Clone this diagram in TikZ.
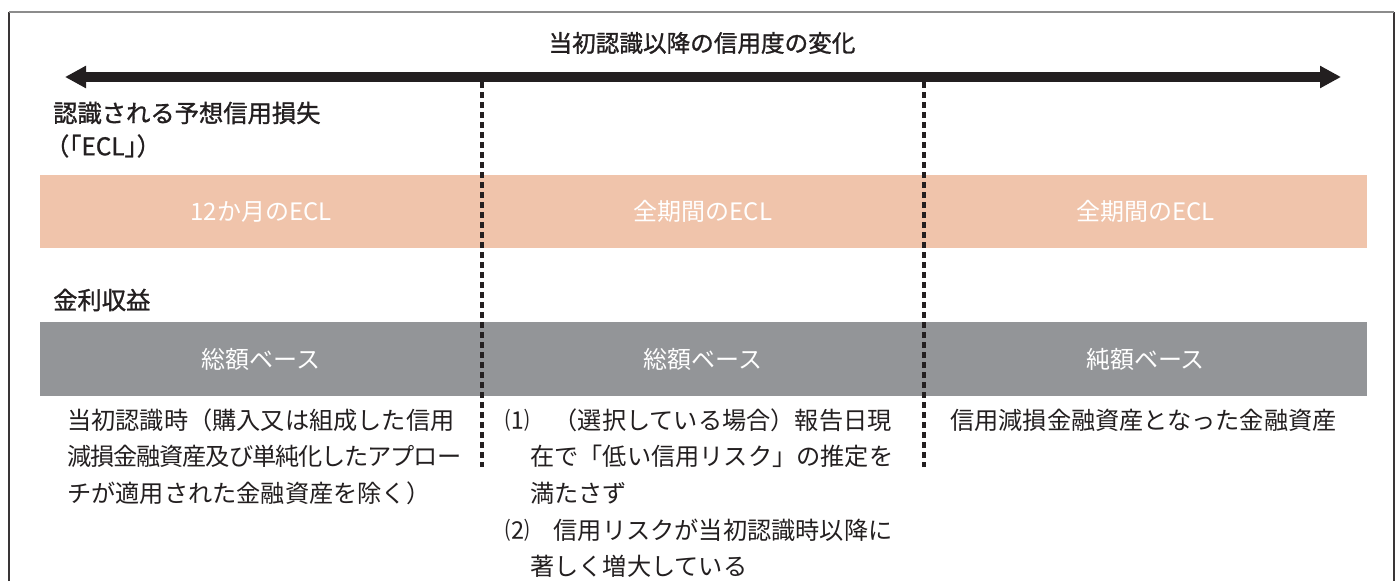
\documentclass[tikz,border=0pt]{standalone}
\usepackage{fontspec}
\setmainfont{Noto Sans CJK JP}
\newfontfamily\headfont{Noto Sans CJK JP}[FakeBold=1.2]
\usetikzlibrary{arrows.meta}
\definecolor{peach}{HTML}{F0C4AB}
\definecolor{bandgray}{HTML}{939598}
\definecolor{ink}{HTML}{231F20}
\definecolor{framegray}{HTML}{8C8C8C}
\begin{document}
\begin{tikzpicture}[x=1pt,y=-1pt,
  frameside/.style={draw=ink!90, line width=2pt},
  frametop/.style={draw=framegray, line width=1.6pt},
  titletext/.style={inner sep=0pt, text=ink, font=\headfont\fontsize{23.6}{28}\selectfont},
  lbl/.style={anchor=west, inner sep=0pt, text=ink, font=\headfont\fontsize{24.3}{28}\selectfont},
  body/.style={anchor=west, inner sep=0pt, text=ink, font=\fontsize{24.2}{28}\selectfont},
  cell/.style={minimum width=443pt, minimum height=73pt, inner sep=0pt, text=white, font=\fontsize{24}{28}\selectfont},
  timeline/.style={draw=ink, line width=10pt, {Triangle[length=21pt,width=21pt]}-{Triangle[length=21pt,width=21pt]}},
  divider/.style={draw=ink, line width=3.2pt, dash pattern=on 6pt off 4pt}
]
\useasboundingbox (0,0) rectangle (1399,581);
\fill[white] (0,0) rectangle (1399,581);

% frame
\coordinate (fTL) at (9,12);
\coordinate (fTR) at (1394,12);
\coordinate (fBL) at (9,581);
\coordinate (fBR) at (1394,581);
\draw[frameside] (fBL) -- (fTL);
\draw[frameside] (fTR) -- (fBR);
\draw[frametop] (fTL) -- (fTR);

% title and timeline
\node[titletext] (title) at (702,43) {当初認識以降の信用度の変化};
\coordinate (aL) at (65,77);
\coordinate (aR) at (1341,77);
\draw[timeline] (aL) -- (aR);

% row labels
\node[lbl] (eclhead) at (53,113) {認識される予想信用損失};
\node[lbl] (eclabbr) at (57,146) {\addfontfeatures{RawFeature=+halt}（「ECL」）};
\node[lbl] (kinri) at (53,300) {金利収益};

% ECL band
\node[cell, fill=peach] (e1) at (261,211.5) {12か月のECL};
\node[cell, fill=peach] (e2) at (703,211.5) {全期間のECL};
\node[cell, fill=peach] (e3) at (1145.5,211.5) {全期間のECL};

% interest band
\node[cell, fill=bandgray, minimum height=74pt] (g1) at (261,359) {総額ベース};
\node[cell, fill=bandgray, minimum height=74pt] (g2) at (703,359) {総額ベース};
\node[cell, fill=bandgray, minimum height=74pt] (g3) at (1145.5,359) {純額ベース};

% dividers
\coordinate (d1a) at (482,82);
\coordinate (d1b) at (482,467);
\coordinate (d2a) at (924,82);
\coordinate (d2b) at (924,467);
\draw[divider] (d1a) -- (d1b);
\draw[divider] (d2a) -- (d2b);

% column 1 text
\node[body] (c1l1) at (67,420) {当初認識時（購入又は組成した信用};
\node[body] (c1l2) at (67,456) {\addfontfeatures{LetterSpace=-4.5}減損金融資産及び単純化したアプロー};
\node[body] (c1l3) at (67,493) {チが適用された金融資産を除く）};

% column 2 text
\node[body] (c2l1) at (505,420) {⑴　（選択している場合）報告日現};
\node[body] (c2l2) at (530,456) {在で「低い信用リスク」の推定を};
\node[body] (c2l3) at (530,493) {満たさず};
\node[body] (c2l4) at (505,530) {⑵　信用リスクが当初認識時以降に};
\node[body] (c2l5) at (530,566) {著しく増大している};

% column 3 text
\node[body] (c3l1) at (950,420) {信用減損金融資産となった金融資産};
\end{tikzpicture}
\end{document}
